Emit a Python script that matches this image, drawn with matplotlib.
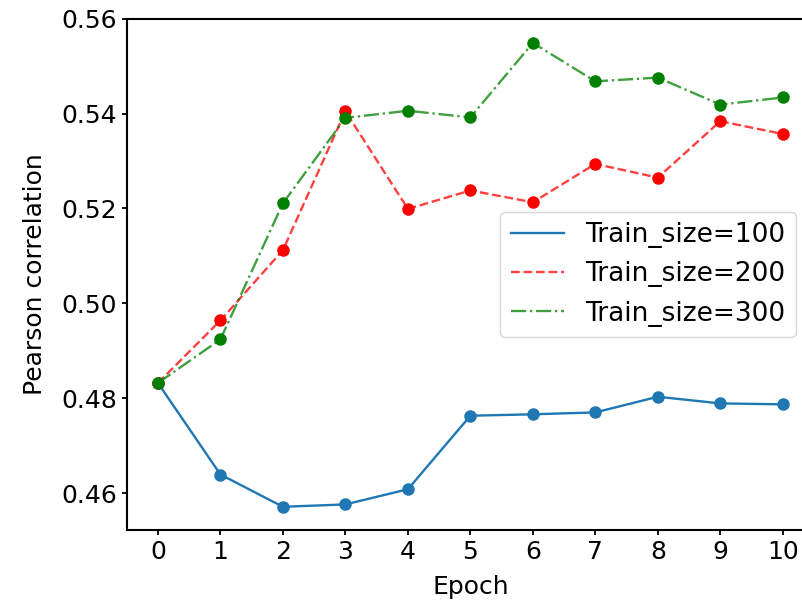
import numpy as np
import matplotlib
matplotlib.use("Agg")
import matplotlib.pyplot as plt

epochs = list(range(11))
size_100 = [0.4832, 0.4639, 0.4571, 0.4576, 0.4608, 0.4763, 0.4766, 0.4770, 0.4803, 0.4789, 0.4787]
size_200 = [0.4832, 0.4964, 0.5112, 0.5405, 0.5199, 0.5238, 0.5213, 0.5294, 0.5265, 0.5384, 0.5357]
size_300 = [0.4832, 0.4924, 0.5211, 0.5391, 0.5406, 0.5392, 0.5549, 0.5468, 0.5476, 0.5419, 0.5434]

plt.rcParams['font.size'] = 18
plt.rcParams['axes.linewidth'] = 1.5
plt.rcParams['xtick.major.width'] = 1.3
plt.rcParams['ytick.major.width'] = 1.3

fig = plt.figure(figsize=(8.02, 6.05), dpi=100)
ax = fig.add_axes([0.158, 0.124, 0.857, 0.845])

ax.plot(epochs, size_100, color='tab:blue', linestyle='-', lw=1.7, label='Train_size=100')
ax.plot(epochs, size_100, 'o', color='tab:blue', ms=8)
ax.plot(epochs, size_200, color='red', linestyle='--', lw=1.7, alpha=0.75, label='Train_size=200')
ax.plot(epochs, size_200, 'o', color='red', ms=8)
ax.plot(epochs, size_300, color='green', linestyle='-.', lw=1.7, alpha=0.75, label='Train_size=300')
ax.plot(epochs, size_300, 'o', color='green', ms=8)

ax.set_xticks(epochs)
ax.set_yticks([0.46, 0.48, 0.50, 0.52, 0.54, 0.56])
ax.set_xlabel('Epoch', labelpad=8)
ax.set_ylabel('Pearson correlation', labelpad=10)
ax.legend(loc='center right', fontsize=19, borderaxespad=0.7)

fig.savefig('out.png', dpi=100)
